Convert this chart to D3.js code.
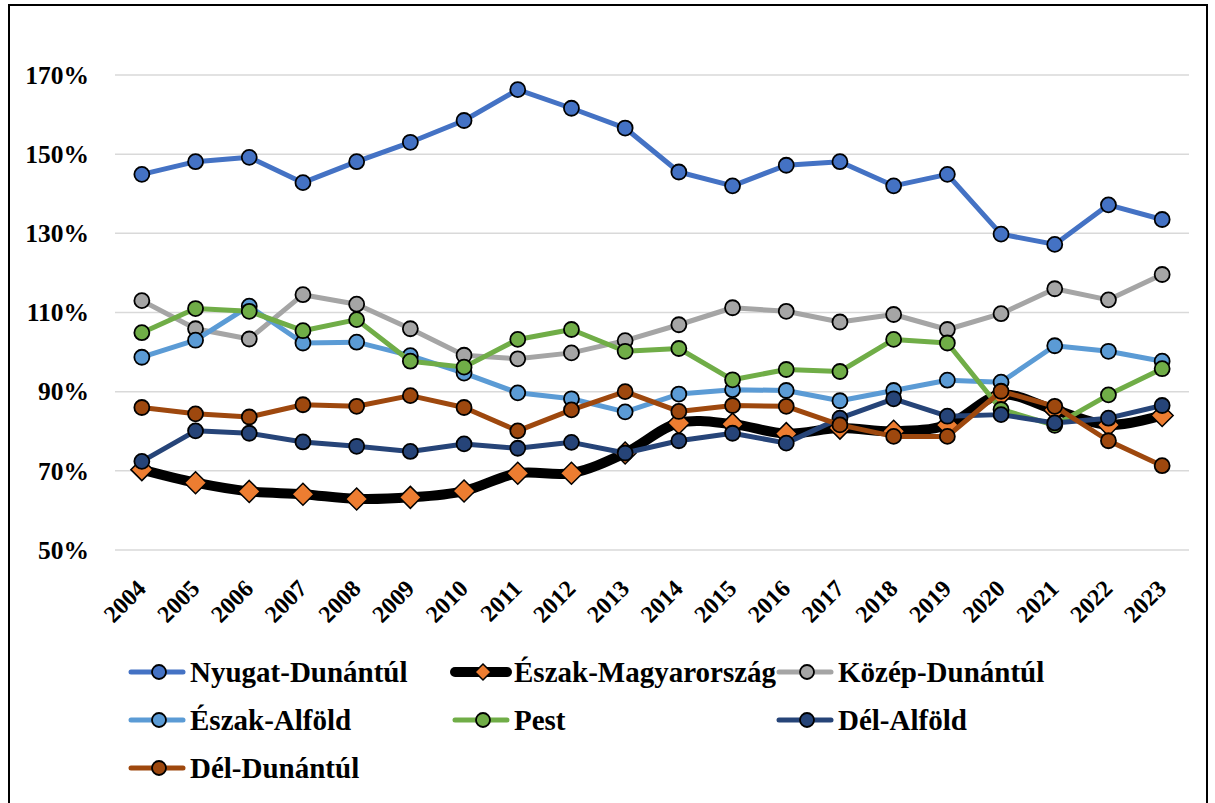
<!DOCTYPE html>
<html>
<head>
<meta charset="utf-8">
<script src="https://cdn.jsdelivr.net/npm/d3@7"></script>
<style>
  body { margin: 0; background: #fff; }
  svg { display: block; }
</style>
</head>
<body>
<div id="chart"></div>
<script>
// years on the x axis
const years = ["2004","2005","2006","2007","2008","2009","2010","2011","2012","2013",
               "2014","2015","2016","2017","2018","2019","2020","2021","2022","2023"];

// values in percent
const nyugatDunantul = [144.9,148.1,149.2,142.8,148.1,153.0,158.5,166.3,161.6,156.6,145.5,142.0,147.2,148.1,142.0,144.9,129.8,127.2,137.2,133.5];
const eszakMagyarorszag = [70.3,67.0,64.8,64.1,62.9,63.3,64.9,69.4,69.4,74.5,82.1,81.8,79.4,80.8,80.0,81.6,89.2,85.4,81.6,84.0];
const kozepDunantul = [113.0,105.9,103.3,114.5,112.1,105.9,99.2,98.3,99.8,102.9,106.9,111.2,110.3,107.6,109.5,105.7,109.7,116.0,113.2,119.6];
const eszakAlfold = [98.7,103.0,111.6,102.3,102.5,99.1,94.7,89.7,88.2,84.9,89.4,90.5,90.3,87.7,90.3,92.9,92.4,101.6,100.2,97.7];
const pest = [104.9,111.0,110.3,105.4,108.2,97.7,96.2,103.2,105.7,100.2,100.9,93.0,95.6,95.1,103.2,102.3,85.5,81.5,89.2,95.8];
const delAlfold = [72.4,80.1,79.5,77.3,76.2,74.9,76.8,75.7,77.2,74.5,77.6,79.5,77.0,83.3,88.2,83.8,84.2,82.1,83.3,86.5];
const delDunantul = [86.0,84.4,83.6,86.7,86.3,89.0,86.0,80.1,85.4,90.0,85.0,86.5,86.3,81.6,78.7,78.7,90.1,86.3,77.6,71.3];

const yTicks = [50,70,90,110,130,150,170];

// series in drawing order (later ones on top)
const series = [
  {name: "Nyugat-Dunántúl", values: nyugatDunantul, line: "#4472C4", fill: "#4472C4", shape: "circle", width: 5, smooth: false},
  {name: "Észak-Magyarország", values: eszakMagyarorszag, line: "#000000", fill: "#ED7D31", shape: "diamond", width: 10, smooth: true},
  {name: "Közép-Dunántúl", values: kozepDunantul, line: "#A5A5A5", fill: "#A5A5A5", shape: "circle", width: 5, smooth: false},
  {name: "Észak-Alföld", values: eszakAlfold, line: "#5B9BD5", fill: "#5B9BD5", shape: "circle", width: 5, smooth: false},
  {name: "Pest", values: pest, line: "#70AD47", fill: "#70AD47", shape: "circle", width: 5, smooth: false},
  {name: "Dél-Alföld", values: delAlfold, line: "#264478", fill: "#264478", shape: "circle", width: 5, smooth: false},
  {name: "Dél-Dunántúl", values: delDunantul, line: "#9E480E", fill: "#9E480E", shape: "circle", width: 5, smooth: false}
];

const width = 1215, height = 803;
const font = "'Liberation Serif', 'DejaVu Serif', serif";

const svg = d3.select("#chart").append("svg")
  .attr("width", width)
  .attr("height", height)
  .attr("viewBox", [0, 0, width, height]);

// outer frame
svg.append("rect")
  .attr("x", 9).attr("y", 5)
  .attr("width", 1198).attr("height", 820)
  .attr("fill", "none")
  .attr("stroke", "#000")
  .attr("stroke-width", 2);

const x = d3.scalePoint()
  .domain(years)
  .range([115, 1189])
  .padding(0.5);

const y = d3.scaleLinear()
  .domain([50, 170])
  .range([550, 75]);

// gridlines
svg.append("g")
  .selectAll("line")
  .data(yTicks)
  .join("line")
    .attr("x1", 115).attr("x2", 1189)
    .attr("y1", d => y(d)).attr("y2", d => y(d))
    .attr("stroke", "#D9D9D9")
    .attr("stroke-width", 1.5);

// y axis labels
const yAxis = svg.append("g")
  .attr("transform", "translate(115,0)")
  .call(d3.axisLeft(y).tickValues(yTicks).tickSize(0).tickPadding(26).tickFormat(d => d + "%"));
yAxis.select(".domain").remove();
yAxis.selectAll("text")
  .attr("font-family", font)
  .attr("font-weight", "bold")
  .attr("font-size", 25.5)
  .attr("fill", "#000");

// x axis labels, rotated
const xAxis = svg.append("g")
  .attr("transform", "translate(0,550)")
  .call(d3.axisBottom(x).tickSize(0));
xAxis.select(".domain").remove();
xAxis.selectAll("text")
  .attr("font-family", font)
  .attr("font-weight", "bold")
  .attr("font-size", 24)
  .attr("fill", "#000")
  .attr("text-anchor", "end")
  .attr("dy", 0)
  .attr("y", 0)
  .attr("transform", "translate(5,40) rotate(-45)");

function drawMarker(g, s, cx, cy, r) {
  if (s.shape === "diamond") {
    g.append("path")
      .attr("d", `M${cx},${cy - r}L${cx + r},${cy}L${cx},${cy + r}L${cx - r},${cy}Z`)
      .attr("fill", s.fill)
      .attr("stroke", "#000")
      .attr("stroke-width", 1.5);
  } else {
    g.append("circle")
      .attr("cx", cx).attr("cy", cy).attr("r", r)
      .attr("fill", s.fill)
      .attr("stroke", "#000")
      .attr("stroke-width", 1.8);
  }
}

// lines and markers, series by series
series.forEach(s => {
  const g = svg.append("g");
  const line = d3.line()
    .x((d, i) => x(years[i]))
    .y(d => y(d))
    .curve(s.smooth ? d3.curveCatmullRom.alpha(0.5) : d3.curveLinear);
  g.append("path")
    .attr("d", line(s.values))
    .attr("fill", "none")
    .attr("stroke", s.line)
    .attr("stroke-width", s.width)
    .attr("stroke-linejoin", "round")
    .attr("stroke-linecap", "round");
  s.values.forEach((v, i) => {
    drawMarker(g, s, x(years[i]), y(v), s.shape === "diamond" ? 11 : 7.5);
  });
});

// legend
const legCols = [131, 455, 779];
const legRows = [672, 720, 768];
const legend = svg.append("g");
series.forEach((s, i) => {
  const lx = legCols[i % 3], ly = legRows[Math.floor(i / 3)];
  const g = legend.append("g");
  g.append("line")
    .attr("x1", lx).attr("x2", lx + 52)
    .attr("y1", ly).attr("y2", ly)
    .attr("stroke", s.line)
    .attr("stroke-width", s.smooth ? 10 : 5)
    .attr("stroke-linecap", "round");
  drawMarker(g, s, lx + 28, ly, s.shape === "diamond" ? 8 : 7);
  g.append("text")
    .attr("x", lx + 59)
    .attr("y", ly)
    .attr("dy", "0.35em")
    .attr("font-family", font)
    .attr("font-weight", "bold")
    .attr("font-size", 29)
    .attr("fill", "#000")
    .text(s.name);
});
</script>
</body>
</html>
